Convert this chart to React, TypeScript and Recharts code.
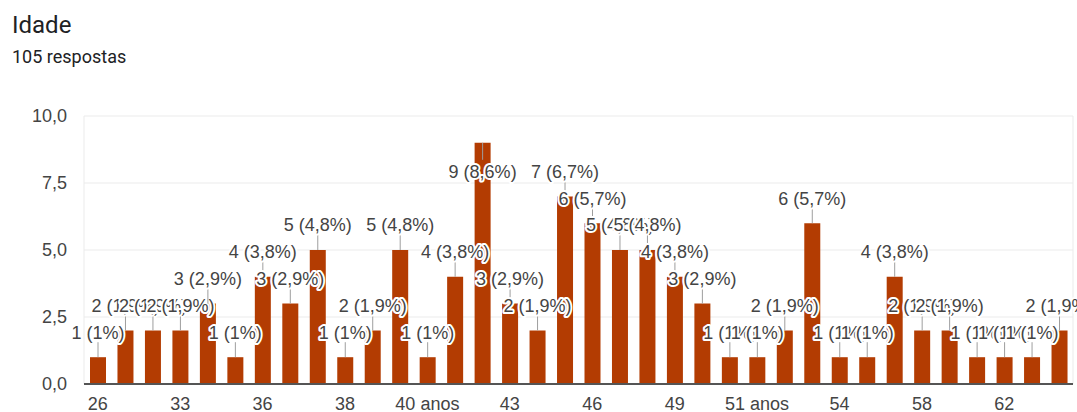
import React from 'react';
import { BarChart, Bar, XAxis, YAxis, CartesianGrid, LabelList } from 'recharts';

// Answers to "Idade", one bar per distinct answer
const ages = [
  '26', '28', '30', '33', '34', '35', '36', '37', '37 anos', '38', '39', '40',
  '40 anos', '41', '42', '43', '44', '45', '46', '47', '48', '49', '50', '51',
  '51 anos', '52', '53', '54', '55', '56', '58', '59', '60', '62', '63', '65',
];
const counts = [
  1, 2, 2, 2, 3, 1, 4, 3, 5, 1, 2, 5,
  1, 4, 9, 3, 2, 7, 6, 5, 5, 4, 3, 1,
  1, 2, 6, 1, 1, 4, 2, 2, 1, 1, 1, 2,
];
const yTicks = [0, 2.5, 5, 7.5, 10];

const totalResponses = counts.reduce((a, b) => a + b, 0);
const data = ages.map((age, i) => ({ age, count: counts[i] }));

const W = 1077;
const H = 412;
const PLOT_TOP = 116;
const BAR_COLOR = '#b33c02';
const TEXT_COLOR = '#444444';
const CHART_FONT = "Arial, 'Liberation Sans', sans-serif";

const fmtTick = (v: number) => v.toFixed(1).replace('.', ',');

const fmtPct = (v: number) =>
  (v / totalResponses * 100).toFixed(1).replace(/\.0$/, '').replace('.', ',');

// Count + share annotation with a short stem; goes inside the bar when there is no room above
function ValueLabel(props: any) {
  const { x, y, width, value } = props;
  if (value == null) return null;
  const cx = Number(x) + Number(width) / 2;
  const top = Number(y);
  const above = top - 34 >= PLOT_TOP;
  const stemEnd = above ? top - 15 : top + 17;
  const ty = above ? top - 25 : top + 29;
  return (
    <g>
      <line x1={cx} x2={cx} y1={top} y2={stemEnd} stroke="#9e9e9e" strokeWidth={1} />
      <text
        x={cx}
        y={ty}
        dy="0.36em"
        textAnchor="middle"
        fontFamily={CHART_FONT}
        fontSize={18}
        fill={TEXT_COLOR}
        stroke="#ffffff"
        strokeWidth={4}
        strokeLinejoin="round"
        paintOrder="stroke"
      >
        {`${value} (${fmtPct(value)}%)`}
      </text>
    </g>
  );
}

export default function App() {
  return (
    <div
      style={{
        position: 'absolute',
        left: 0,
        top: 0,
        width: W,
        height: H,
        overflow: 'hidden',
        background: '#ffffff',
      }}
    >
      <div
        style={{
          position: 'absolute',
          left: 12,
          top: 13,
          fontFamily: 'Roboto, sans-serif',
          fontSize: 24,
          lineHeight: '24px',
          color: '#202124',
          whiteSpace: 'nowrap',
        }}
      >
        Idade
      </div>
      <div
        style={{
          position: 'absolute',
          left: 12,
          top: 48,
          fontFamily: 'Roboto, sans-serif',
          fontSize: 18,
          lineHeight: '18px',
          color: '#202124',
          whiteSpace: 'nowrap',
        }}
      >
        {`${totalResponses} respostas`}
      </div>
      <div style={{ position: 'absolute', left: 0, top: 0 }}>
        <BarChart
          width={W}
          height={H}
          data={data}
          margin={{ top: PLOT_TOP, right: 4, bottom: 0, left: 0 }}
          barSize={16}
        >
          <CartesianGrid
            stroke="#ebebeb"
            vertical={true}
            verticalCoordinatesGenerator={({ offset }: any) => [
              offset.left,
              offset.left + offset.width,
            ]}
          />
          <XAxis
            dataKey="age"
            interval={2}
            height={28}
            tickSize={0}
            tickMargin={13}
            tickLine={false}
            axisLine={{ stroke: '#555555', strokeWidth: 2 }}
            tick={{ fill: TEXT_COLOR, fontSize: 18, fontFamily: CHART_FONT }}
          />
          <YAxis
            width={84}
            domain={[0, 10]}
            ticks={yTicks}
            tickFormatter={fmtTick}
            tickSize={0}
            tickMargin={17}
            tickLine={false}
            axisLine={false}
            tick={{ fill: TEXT_COLOR, fontSize: 18, fontFamily: CHART_FONT }}
          />
          <Bar dataKey="count" fill={BAR_COLOR} isAnimationActive={false}>
            <LabelList dataKey="count" content={<ValueLabel />} />
          </Bar>
        </BarChart>
      </div>
    </div>
  );
}
